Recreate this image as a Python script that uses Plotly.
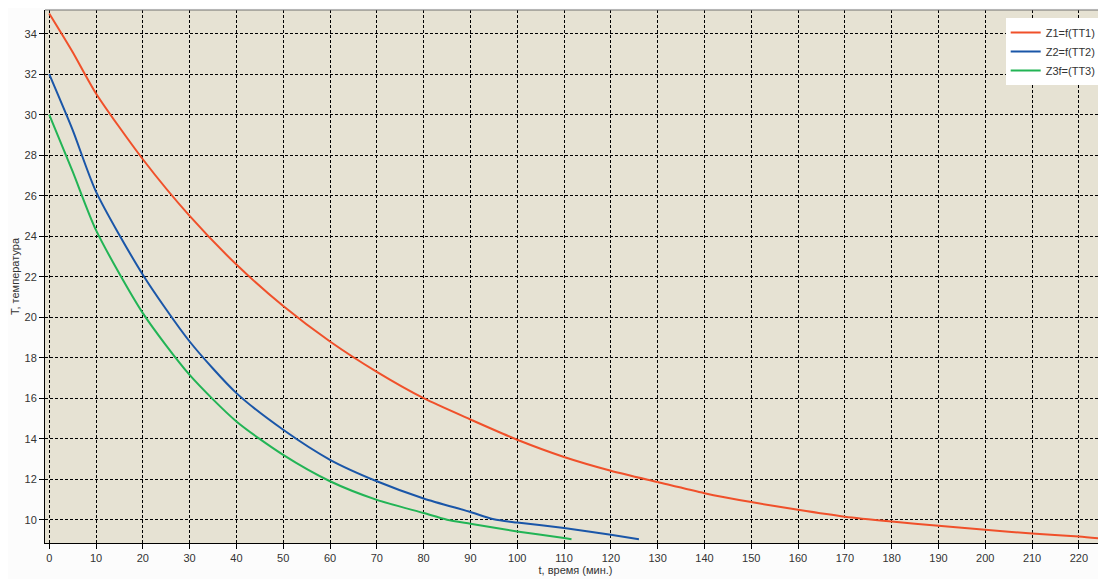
import plotly.graph_objects as go

# Data
t_z1 = [0, 5, 10, 20, 30, 40, 50, 60, 70, 80, 90, 100, 110, 120, 130, 140,
        150, 160, 170, 180, 190, 200, 210, 220, 225.8]
T_z1 = [35.0, 33.1, 31.05, 27.8, 25.0, 22.6, 20.55, 18.8, 17.3, 16.0, 14.95,
        13.95, 13.1, 12.42, 11.86, 11.31, 10.87, 10.49, 10.15, 9.91, 9.7, 9.5,
        9.32, 9.17, 9.04]

t_z2 = [0, 5, 10, 20, 30, 40, 50, 60, 70, 80, 90, 95, 100, 110, 120, 126]
T_z2 = [32.0, 29.25, 26.2, 22.1, 18.8, 16.25, 14.44, 12.96, 11.9, 11.05, 10.38,
        10.02, 9.86, 9.59, 9.26, 9.04]

t_z3 = [0, 5, 10, 20, 30, 40, 50, 60, 70, 80, 85, 90, 100, 110, 111.6]
T_z3 = [30.0, 27.2, 24.3, 20.2, 17.15, 14.85, 13.2, 11.9, 10.98, 10.33, 10.0,
        9.8, 9.42, 9.1, 9.04]

names = ["Z1=f(TT1)", "Z2=f(TT2)", "Z3f=(TT3)"]
colors = ["#F0502A", "#1A56A8", "#22B455"]

x_ticks = list(range(0, 230, 10))
y_ticks = list(range(10, 36, 2))

fig = go.Figure()
for t, T, n, c in zip([t_z1, t_z2, t_z3], [T_z1, T_z2, T_z3], names, colors):
    fig.add_trace(go.Scatter(x=t, y=T, mode="lines", name=n,
                             line=dict(color=c, width=2, shape="spline", smoothing=0.7)))

font = dict(family="Liberation Sans, Arial, sans-serif", size=11, color="#333333")

# page body has an 8px default margin, so the figure is sized to fill the window
fig.update_layout(
    width=1098, height=571,
    margin=dict(l=37, r=0, t=2, b=36),
    paper_bgcolor="#FCFCFC",
    plot_bgcolor="#E6E2D3",
    font=font,
    showlegend=True,
    legend=dict(x=0.995, y=0.985, xanchor="right", yanchor="top",
                bgcolor="#FFFFFF", borderwidth=0, font=dict(size=11, color="#333333"),
                tracegroupgap=0, itemwidth=30),
    xaxis=dict(range=[-0.9, 225.8], tickmode="array", tickvals=x_ticks,
               showgrid=True, gridcolor="#000000", gridwidth=1, griddash="3px,2px",
               zeroline=False, showline=True, linecolor="#000000", linewidth=1,
               ticks="outside", ticklen=5, tickcolor="#000000", automargin=False,
               title=dict(text="t, время (мин.)", standoff=2, font=dict(size=11))),
    yaxis=dict(range=[8.85, 35.17], tickmode="array", tickvals=y_ticks,
               showgrid=True, gridcolor="#000000", gridwidth=1, griddash="3px,2px",
               zeroline=False, showline=True, linecolor="#000000", linewidth=1,
               ticks="outside", ticklen=5, tickcolor="#000000", automargin=False,
               title=dict(text="T, температура", standoff=2, font=dict(size=11))),
)
# top border of plot area (gray)
fig.add_shape(type="line", xref="paper", yref="paper", x0=0, x1=1, y0=1, y1=1,
              line=dict(color="#707070", width=1))

fig.write_html("out.html")
